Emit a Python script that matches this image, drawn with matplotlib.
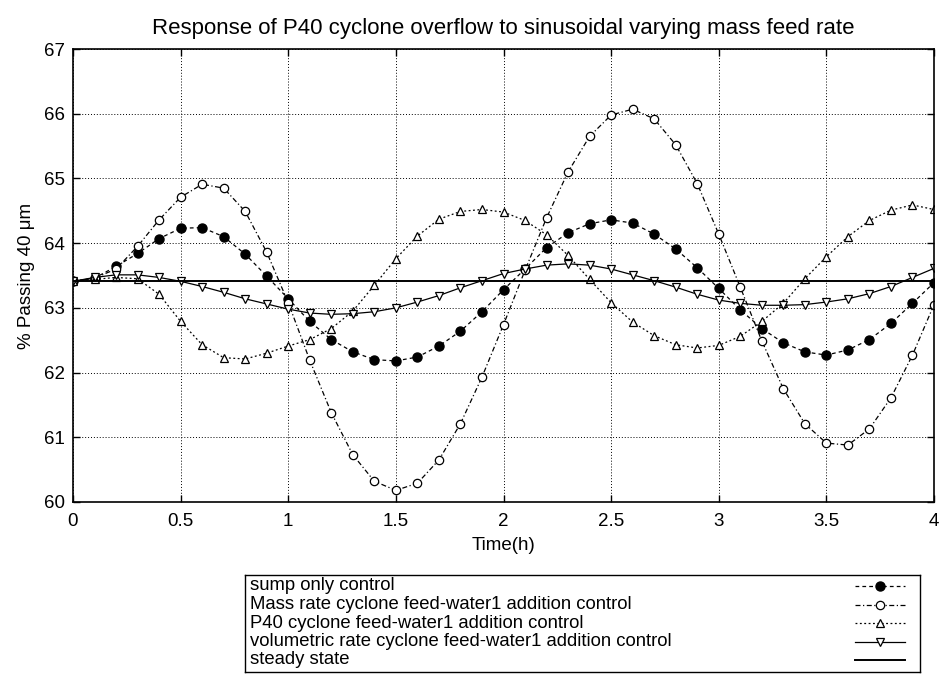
import numpy as np
import matplotlib
matplotlib.use("Agg")
import matplotlib.pyplot as plt

plt.rcParams['font.family'] = ['Liberation Sans', 'DejaVu Sans']

# time in hours, every 0.1 h
t = [0.0, 0.1, 0.2, 0.3, 0.4, 0.5, 0.6, 0.7, 0.8, 0.9,
     1.0, 1.1, 1.2, 1.3, 1.4, 1.5, 1.6, 1.7, 1.8, 1.9,
     2.0, 2.1, 2.2, 2.3, 2.4, 2.5, 2.6, 2.7, 2.8, 2.9,
     3.0, 3.1, 3.2, 3.3, 3.4, 3.5, 3.6, 3.7, 3.8, 3.9, 4.0]

sump = [63.41, 63.46, 63.64, 63.84, 64.07, 64.23, 64.24, 64.10, 63.83, 63.49,
        63.14, 62.79, 62.51, 62.32, 62.20, 62.18, 62.24, 62.41, 62.64, 62.94,
        63.28, 63.60, 63.93, 64.16, 64.30, 64.36, 64.31, 64.14, 63.91, 63.62,
        63.30, 62.97, 62.68, 62.46, 62.32, 62.27, 62.35, 62.51, 62.76, 63.07, 63.39]

mass = [63.41, 63.46, 63.60, 63.95, 64.36, 64.71, 64.91, 64.85, 64.49, 63.86,
        63.08, 62.19, 61.38, 60.73, 60.32, 60.18, 60.29, 60.65, 61.21, 61.93,
        62.74, 63.58, 64.39, 65.10, 65.65, 65.98, 66.07, 65.92, 65.52, 64.92,
        64.14, 63.32, 62.49, 61.75, 61.21, 60.91, 60.88, 61.13, 61.61, 62.27, 63.05]

p40 = [63.41, 63.44, 63.47, 63.45, 63.21, 62.79, 62.43, 62.23, 62.21, 62.30,
       62.41, 62.51, 62.68, 62.95, 63.35, 63.76, 64.11, 64.37, 64.49, 64.52,
       64.48, 64.35, 64.13, 63.81, 63.44, 63.08, 62.78, 62.57, 62.43, 62.38,
       62.42, 62.56, 62.79, 63.07, 63.45, 63.79, 64.10, 64.35, 64.51, 64.59, 64.52]

vol = [63.41, 63.47, 63.51, 63.51, 63.47, 63.41, 63.33, 63.24, 63.14, 63.06,
       62.98, 62.92, 62.90, 62.91, 62.94, 63.00, 63.09, 63.19, 63.31, 63.42,
       63.53, 63.60, 63.66, 63.68, 63.66, 63.60, 63.51, 63.42, 63.32, 63.21,
       63.12, 63.07, 63.04, 63.04, 63.05, 63.09, 63.14, 63.22, 63.33, 63.47, 63.61]

steady = 63.41

labels = ["sump only control",
          "Mass rate cyclone feed-water1 addition control",
          "P40 cyclone feed-water1 addition control",
          "volumetric rate cyclone feed-water1 addition control",
          "steady state"]

styles = [
    dict(ls=(0, (3, 2.5)), marker='o', ms=6.5, mfc='black', mec='black'),
    dict(ls=(0, (4, 2, 1, 2)), marker='o', ms=6, mfc='white', mec='black', mew=0.9),
    dict(ls=(0, (1.5, 2)), marker='^', ms=6, mfc='white', mec='black', mew=0.9),
    dict(ls='-', marker='v', ms=6, mfc='white', mec='black', mew=0.9),
    dict(ls='-', marker=None, lw=1.4),
]

fig = plt.figure(figsize=(9.4, 6.74), dpi=100)
ax = fig.add_axes([73 / 940, 1 - 502 / 674, 861 / 940, 453 / 674])

series = [sump, mass, p40, vol]
for y, st in zip(series, styles[:4]):
    ax.plot(t, y, color='black', lw=0.9, **st)
ax.plot([t[0], t[-1]], [steady, steady], color='black', **styles[4])

ax.set_xlim(0, 4)
ax.set_ylim(60, 67)
ax.set_xticks([0, 0.5, 1, 1.5, 2, 2.5, 3, 3.5, 4])
ax.set_xticklabels(["0", "0.5", "1", "1.5", "2", "2.5", "3", "3.5", "4"])
ax.set_yticks(range(60, 68))
ax.grid(True, color='black', ls=(0, (1, 2)), lw=0.7)
ax.tick_params(direction='in', top=True, right=True, length=5, width=1,
               labelsize=13.5, pad=8)
ax.tick_params(axis='y', pad=6)
for s in ax.spines.values():
    s.set_linewidth(1.2)
ax.set_title("Response of P40 cyclone overflow to sinusoidal varying mass feed rate",
             fontsize=16, pad=11)
ax.set_xlabel("Time(h)", fontsize=13.5, labelpad=5)
ax.set_ylabel("% Passing 40 μm", fontsize=13.5, labelpad=6)

# legend box drawn by hand: text on the left, samples on the right
lax = fig.add_axes([245 / 940, 1 - 672 / 674, 675 / 940, 97 / 674])
lax.set_xlim(245, 920)
lax.set_ylim(672, 575)
lax.set_xticks([])
lax.set_yticks([])
for s in lax.spines.values():
    s.set_linewidth(1.0)
rows = [586, 604.5, 623, 641.5, 660]
for yy, lab, st in zip(rows, labels, styles):
    lax.text(250, yy, lab, fontsize=13.3, va='center', ha='left')
    st2 = dict(st)
    lw = st2.pop('lw', 0.9)
    lax.plot([855, 880, 905], [yy, yy, yy], color='black', lw=lw,
             markevery=[1], **st2)

fig.savefig("out.png", dpi=100)
